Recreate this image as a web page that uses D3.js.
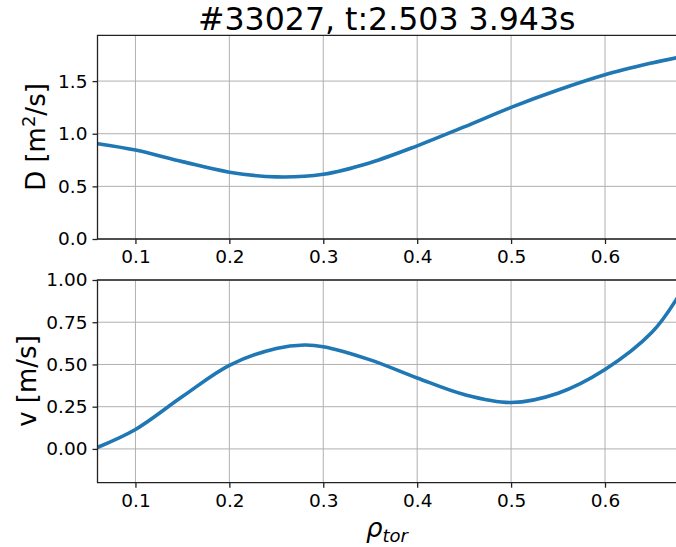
<!DOCTYPE html>
<html>
<head>
<meta charset="utf-8">
<script src="https://cdn.jsdelivr.net/npm/d3@7"></script>
<style>
  body { margin: 0; background: #fff; }
  text { font-family: "DejaVu Sans", sans-serif; fill: #000; }
</style>
</head>
<body>
<div id="chart"></div>
<script>
const title = "#33027, t:2.503 3.943s"

// top panel: diffusion D
const rhoD = [0.06, 0.1, 0.15, 0.2, 0.25, 0.3, 0.35, 0.4, 0.45, 0.5, 0.55, 0.6, 0.65, 0.676]
const dVals = [0.905, 0.845, 0.735, 0.635, 0.59, 0.615, 0.725, 0.885, 1.065, 1.25, 1.415, 1.56, 1.672, 1.722]

// bottom panel: convection v
const rhoV = [0.06, 0.1, 0.15, 0.2, 0.25, 0.28, 0.3, 0.35, 0.4, 0.45, 0.5, 0.55, 0.6, 0.65, 0.676]
const vVals = [0.01, 0.115, 0.31, 0.495, 0.595, 0.615, 0.605, 0.527, 0.42, 0.322, 0.275, 0.33, 0.47, 0.69, 0.885]

const xTicks = [0.1, 0.2, 0.3, 0.4, 0.5, 0.6]
const dTicks = [0.0, 0.5, 1.0, 1.5]
const vTicks = [0.0, 0.25, 0.5, 0.75, 1.0]

const W = 676, H = 547
const left = 97.5, right = 676

const svg = d3.select("#chart").append("svg")
  .attr("width", W).attr("height", H)

svg.append("rect").attr("width", W).attr("height", H).attr("fill", "#fff")

const x = d3.scaleLinear().domain([0.0596, 0.6756]).range([left, right])

const drawPanel = (top, bottom, yDomain, yTicks, fmt, xs, ys, id) => {
  const y = d3.scaleLinear().domain(yDomain).range([bottom, top])
  const g = svg.append("g")

  g.append("clipPath").attr("id", id)
    .append("rect").attr("x", left).attr("y", top)
    .attr("width", right - left).attr("height", bottom - top)

  // grid
  g.selectAll(".gx").data(xTicks).enter().append("line")
    .attr("x1", d => x(d)).attr("x2", d => x(d))
    .attr("y1", top).attr("y2", bottom)
    .attr("stroke", "#b0b0b0").attr("stroke-width", 1)
  g.selectAll(".gy").data(yTicks).enter().append("line")
    .attr("x1", left).attr("x2", right)
    .attr("y1", d => y(d)).attr("y2", d => y(d))
    .attr("stroke", "#b0b0b0").attr("stroke-width", 1)

  // axes
  const xa = g.append("g").attr("transform", `translate(0,${bottom})`)
    .call(d3.axisBottom(x).tickValues(xTicks).tickFormat(d3.format(".1f")).tickSizeOuter(0).tickSize(5).tickPadding(6))
  const ya = g.append("g").attr("transform", `translate(${left},0)`)
    .call(d3.axisLeft(y).tickValues(yTicks).tickFormat(fmt).tickSizeOuter(0).tickSize(5).tickPadding(5))
  ;[xa, ya].forEach(a => {
    a.select(".domain").remove()
    a.selectAll("line").attr("stroke", "#222").attr("stroke-width", 1.3)
    a.selectAll("text").attr("font-size", 18.5).attr("font-family", "DejaVu Sans").attr("fill", "#000")
  })

  // line
  const line = d3.line().x((d, i) => x(xs[i])).y(d => y(d)).curve(d3.curveCatmullRom.alpha(0.5))
  g.append("path").datum(ys)
    .attr("clip-path", `url(#${id})`)
    .attr("d", line)
    .attr("fill", "none").attr("stroke", "#1f77b4").attr("stroke-width", 3.6)
    .attr("stroke-linecap", "square")

  // spines
  g.append("path")
    .attr("d", `M${right},${top}H${left}V${bottom}H${right}`)
    .attr("fill", "none").attr("stroke", "#222").attr("stroke-width", 1.3)
  return y
}

drawPanel(35.3, 239, [0, 1.935], dTicks, d3.format(".1f"), rhoD, dVals, "clipD")
drawPanel(280, 482.7, [-0.2, 1.0], vTicks, d3.format(".2f"), rhoV, vVals, "clipV")

svg.append("text").attr("x", (left + right) / 2).attr("y", 30)
  .attr("text-anchor", "middle").attr("font-size", 31.6).text(title)

const dl = svg.append("text").attr("transform", `translate(45,137) rotate(-90)`)
  .attr("text-anchor", "middle").attr("font-size", 26)
dl.append("tspan").text("D [m")
dl.append("tspan").attr("font-size", 18).attr("dy", -10).text("2")
dl.append("tspan").attr("dy", 10).text("/s]")

svg.append("text").attr("transform", `translate(36,381) rotate(-90)`)
  .attr("text-anchor", "middle").attr("font-size", 26).text("v [m/s]")

const xl = svg.append("text").attr("x", 387).attr("y", 537)
  .attr("text-anchor", "middle").attr("font-size", 26)
xl.append("tspan").attr("font-style", "italic").text("ρ")
xl.append("tspan").attr("font-style", "italic").attr("font-size", 18).attr("dy", 5).text("tor")
</script>
</body>
</html>
